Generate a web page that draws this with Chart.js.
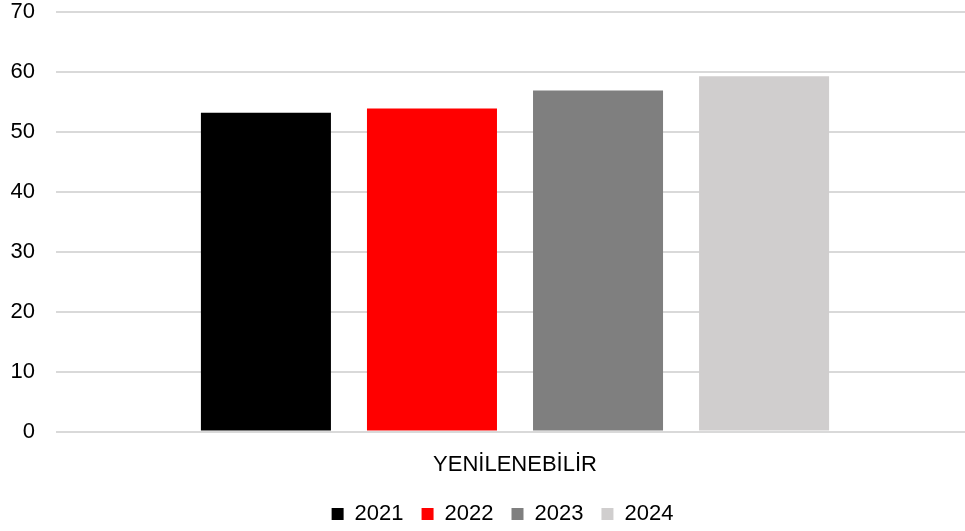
<!DOCTYPE html>
<html>
<head>
<meta charset="utf-8">
<style>
  html, body { margin: 0; padding: 0; background: #fff; }
  #wrap { width: 965px; height: 531px; }
</style>
</head>
<body>
<div id="wrap"><canvas id="myChart" width="965" height="531"></canvas></div>

<script src="https://cdn.jsdelivr.net/npm/chart.js"></script>
<script>
  const categories = ['YENİLENEBİLİR'];
  const years = ['2021', '2022', '2023', '2024'];
  const values2021 = [53.2];
  const values2022 = [53.9];
  const values2023 = [56.9];
  const values2024 = [59.3];
  const colors = ['#000000', '#ff0000', '#7f7f7f', '#d0cece'];
  const yTicks = [0, 10, 20, 30, 40, 50, 60, 70];

  const seriesValues = [values2021, values2022, values2023, values2024];
  const font = "'Liberation Sans', Arial, sans-serif";

  const chartElement = document.getElementById('myChart').getContext('2d');

  // the legend sits a bit right of centre in the original
  const legendShift = {
    id: 'legendShift',
    afterLayout(chart) {
      chart.legend.left += 15;
      chart.legend.right += 15;
    }
  };

  new Chart(chartElement, {
    type: 'bar',
    data: {
      labels: categories,
      datasets: years.map((y, i) => ({
        label: y,
        data: seriesValues[i],
        backgroundColor: colors[i],
        borderWidth: 0,
        barPercentage: 0.783,
        categoryPercentage: 0.738
      }))
    },
    plugins: [legendShift],
    options: {
      responsive: false,
      animation: false,
      layout: { padding: { top: 12, right: 0, left: 10, bottom: -4 } },
      plugins: {
        legend: {
          position: 'bottom',
          labels: {
            color: '#000',
            font: { family: font, size: 22 },
            boxWidth: 12,
            boxHeight: 12,
            padding: 18
          }
        },
        tooltip: { enabled: false }
      },
      scales: {
        x: {
          afterFit: axis => { axis.height = axis.height - 5; },
          grid: { display: false },
          border: { display: false },
          ticks: { color: '#000', font: { family: font, size: 22 }, padding: 12 }
        },
        y: {
          min: 0,
          max: 70,
          afterBuildTicks: axis => { axis.ticks = yTicks.map(v => ({ value: v })); },
          afterFit: axis => { axis.paddingTop = 0; axis.width = 55; },
          // short tick marks let the grid lines run a little past the plot's left edge
          grid: { color: '#d9d9d9', lineWidth: 2, drawTicks: true, tickLength: 9 },
          border: { display: false },
          ticks: { color: '#000', font: { family: font, size: 22 }, padding: 21 }
        }
      }
    }
  });
</script>
</body>
</html>
